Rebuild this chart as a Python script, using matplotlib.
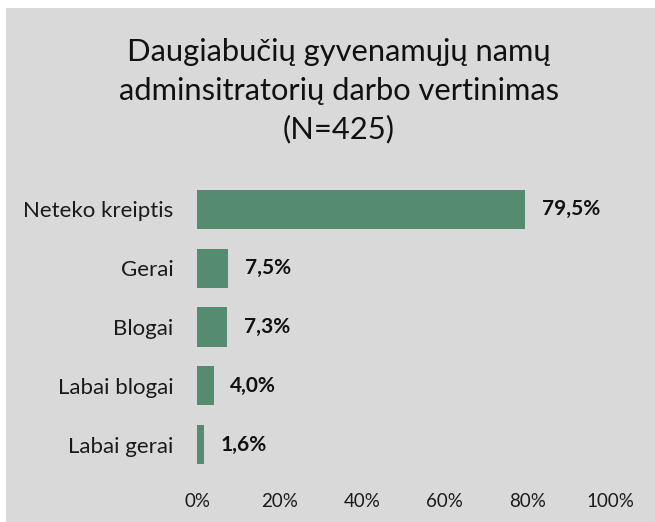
import matplotlib
matplotlib.use("Agg")
import matplotlib.pyplot as plt
from matplotlib.patches import Rectangle
from matplotlib.ticker import FixedLocator

categories = ["Neteko kreiptis", "Gerai", "Blogai", "Labai blogai", "Labai gerai"]
values = [79.5, 7.5, 7.3, 4.0, 1.6]
value_labels = ["79,5%", "7,5%", "7,3%", "4,0%", "1,6%"]
xticks = [0, 20, 40, 60, 80, 100]
xtick_labels = ["0%", "20%", "40%", "60%", "80%", "100%"]
title = "Daugiabučių gyvenamųjų namų\nadminsitratorių darbo vertinimas\n(N=425)"

plt.rcParams['font.family'] = ['Lato', 'DejaVu Sans']

W, H = 655, 522
fig = plt.figure(figsize=(W / 100, H / 100), dpi=100)
fig.patch.set_facecolor("white")
fig.patches.append(Rectangle((6 / W, 0), 1 - 6 / W, 1 - 8 / H, transform=fig.transFigure,
                             facecolor="#d9d9d9", edgecolor="none", zorder=-10))

ax = fig.add_axes([197 / W, 48 / H, 413 / W, 294 / H])
ax.set_facecolor("none")
ax.set_zorder(1)
ypos = list(range(len(categories)))
ax.barh(ypos, values, height=0.665, color="#558b6e")
ax.set_ylim(len(categories) - 0.5, -0.5)
ax.set_xlim(0, 100)
ax.set_yticks(ypos)
ax.set_yticklabels(categories, fontsize=16, color="#1a1a1a")
ax.xaxis.set_major_locator(FixedLocator(xticks))
ax.set_xticklabels(xtick_labels, fontsize=13.5, color="#1a1a1a")
ax.tick_params(axis="both", length=0)
ax.tick_params(axis="y", pad=17)
ax.tick_params(axis="x", pad=14)
for s in ax.spines.values():
    s.set_visible(False)

for y, v, lab in zip(ypos, values, value_labels):
    ax.annotate(lab, (v, y), xytext=(12, 0), textcoords="offset points",
                ha="left", va="center", fontsize=15, fontweight="bold", color="#111111")

fig.text(339 / W, 1 - 91 / H, title, ha="center", va="center", fontsize=22.2,
         color="#111111", linespacing=1.45)

fig.savefig("out.png", dpi=100, facecolor=fig.get_facecolor())
